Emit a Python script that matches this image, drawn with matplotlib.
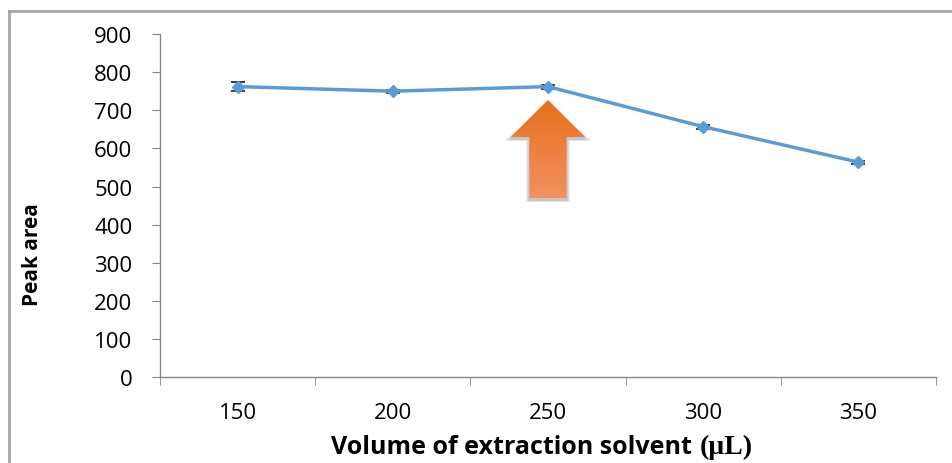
import matplotlib.pyplot as plt
import numpy as np
from matplotlib.patches import Polygon
from matplotlib.lines import Line2D
from matplotlib.colors import LinearSegmentedColormap

plt.rcParams["font.family"] = ["Open Sans", "DejaVu Sans"]

# extraction volume (uL) vs peak area
volumes = ["150", "200", "250", "300", "350"]
peak_area = [762, 750, 762, 657, 564]
peak_err = [11, 4, 5, 5, 4]

line_color = "#5B9BD5"
axis_color = "#868686"

fig = plt.figure(figsize=(9.53, 4.64), dpi=100)
ax = fig.add_axes([0.168, 0.185, 0.814, 0.7396])

x = np.arange(len(volumes))
ax.errorbar(x, peak_area, yerr=peak_err, color=line_color, lw=2.5,
            marker="D", ms=6, mfc=line_color, mec=line_color,
            ecolor="#1a1a1a", elinewidth=1.2, capsize=5, capthick=1.2, zorder=3)

ax.set_xticks(x)
ax.set_xticklabels(volumes)
ax.set_xticks(np.arange(-0.5, len(volumes), 1), minor=True)
ax.set_yticks(np.arange(0, 901, 100))
ax.tick_params(axis="x", which="major", length=0, pad=18, labelsize=16)
ax.tick_params(axis="x", which="minor", length=6, direction="out", color=axis_color)
ax.tick_params(axis="y", length=6, direction="out", color=axis_color, pad=14, labelsize=16)
for s in ["top", "right"]:
    ax.spines[s].set_visible(False)
for s in ["left", "bottom"]:
    ax.spines[s].set_color(axis_color)
    ax.spines[s].set_linewidth(1)

# orange arrow pointing at the 250 uL point: soft shadow + vertical gradient
cx = 2.0
tip, base, bottom = 727, 630, 470
hw, sw = 0.24, 0.12
arrow_pts = [(cx, tip), (cx + hw, base), (cx + sw, base), (cx + sw, bottom),
             (cx - sw, bottom), (cx - sw, base), (cx - hw, base)]
for k in range(6):
    grow = 0.004 * (6 - k)
    sh = Polygon([(cx + (px - cx) * (1 + grow * 8), py - 7 - grow * 150)
                  for px, py in arrow_pts],
                 closed=True, fc="black", ec="none", alpha=0.04, zorder=4)
    ax.add_patch(sh)
arrow = Polygon(arrow_pts, closed=True, fc="none", ec="none", zorder=5)
ax.add_patch(arrow)
grad = np.linspace(0, 1, 256).reshape(-1, 1)
cmap = LinearSegmentedColormap.from_list("arr", ["#F29162", "#E96F1C"])
im = ax.imshow(grad, cmap=cmap, aspect="auto", origin="lower",
               extent=[cx - hw, cx + hw, bottom, tip], zorder=5)
im.set_clip_path(arrow)
ax.set_xlim(-0.5, len(volumes) - 0.5)
ax.set_ylim(0, 900)

# axis titles
fig.text(33 / 953, 1 - 255 / 464, "Peak area", rotation=90, fontsize=15,
         fontweight="bold", ha="center", va="center")
fig.text(698 / 953, 1 - 448 / 464, "Volume of extraction solvent ", fontsize=18,
         fontweight="bold", ha="right", va="center")
fig.text(700 / 953, 1 - 447 / 464, "(\u00b5L)", fontsize=20, fontweight="bold",
         ha="left", va="center", family=["Liberation Serif", "DejaVu Serif"])

# outer frame
fig.add_artist(Line2D([9 / 953, 9 / 953], [0, 1 - 12 / 464], transform=fig.transFigure,
                      color="#A6A6A6", lw=2))
fig.add_artist(Line2D([9 / 953, 1], [1 - 12 / 464, 1 - 12 / 464], transform=fig.transFigure,
                      color="#A6A6A6", lw=2))

fig.savefig("out.png", dpi=100)
